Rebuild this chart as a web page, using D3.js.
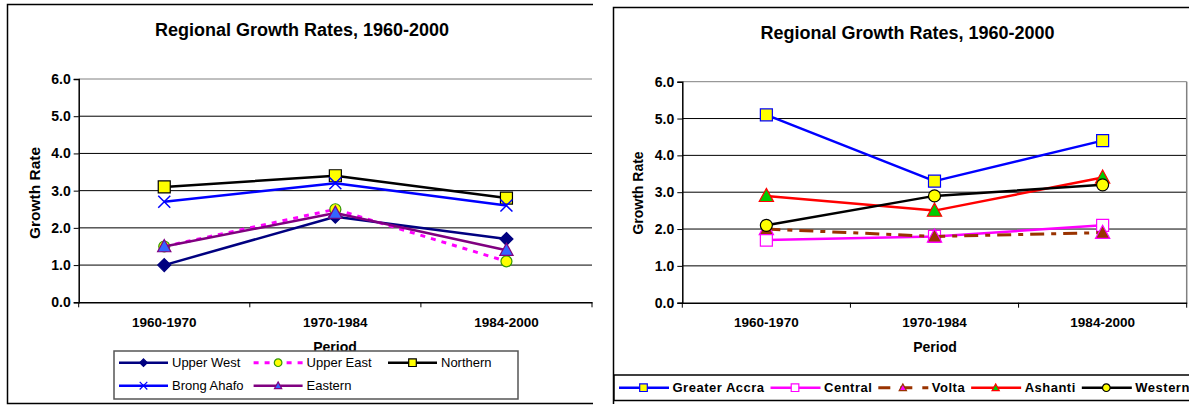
<!DOCTYPE html>
<html><head><meta charset="utf-8">
<script src="https://cdn.jsdelivr.net/npm/d3@7"></script>
<style>
body{margin:0;background:#fff}
svg{display:block;font-family:"Liberation Sans",Arial,sans-serif}
</style>
</head><body>
<svg id="c" width="1189" height="405"></svg>
<script>
// ---------- DATA ----------
const periods = ["1960-1970", "1970-1984", "1984-2000"];
const yTickValues = [0, 1, 2, 3, 4, 5, 6];
const chartTitle = "Regional Growth Rates, 1960-2000";
const xTitle = "Period";
const yTitle = "Growth Rate";

const leftSeriesNames = ["Upper West", "Upper East", "Northern", "Brong Ahafo", "Eastern"];
const upperWest  = [1.0, 2.3, 1.7];
const upperEast  = [1.5, 2.5, 1.1];
const northern   = [3.1, 3.4, 2.8];
const brongAhafo = [2.7, 3.2, 2.6];
const eastern    = [1.5, 2.4, 1.4];

const rightSeriesNames = ["Greater Accra", "Central", "Volta", "Ashanti", "Western"];
const greaterAccra = [5.1, 3.3, 4.4];
const central      = [1.7, 1.8, 2.1];
const volta        = [2.0, 1.8, 1.9];
const ashanti      = [2.9, 2.5, 3.4];
const western      = [2.1, 2.9, 3.2];

// ---------- STYLES ----------
const leftStyles = [
  {color:"#000080", width:2.5, dash:null, marker:"diamond", fill:"#000080", mstroke:"#000080", size:6.5},
  {color:"#FF00FF", width:3, dash:"5,6", marker:"circle", fill:"#FFFF00", mstroke:"#339900", size:5.5},
  {color:"#000000", width:2.5, dash:null, marker:"square", fill:"#FFFF00", mstroke:"#000000", size:6},
  {color:"#0000FF", width:2.5, dash:null, marker:"x", fill:"none", mstroke:"#0000FF", size:6},
  {color:"#800080", width:2.5, dash:null, marker:"triangle", fill:"#3366FF", mstroke:"#800080", size:7}
];
const rightStyles = [
  {color:"#0000FF", width:2.5, dash:null, marker:"square", fill:"#FFFF00", mstroke:"#0000FF", size:6},
  {color:"#FF00FF", width:2.5, dash:null, marker:"square", fill:"#FFFFFF", mstroke:"#FF00FF", size:6},
  {color:"#993300", width:3, dash:"14,7,5,7", marker:"triangle", fill:"#993300", mstroke:"#FF00FF", size:7.5},
  {color:"#FF0000", width:2.5, dash:null, marker:"triangle", fill:"#00CC00", mstroke:"#FF0000", size:7.5},
  {color:"#000000", width:2.5, dash:null, marker:"circle", fill:"#FFFF00", mstroke:"#000000", size:6}
];

function markerPath(type, s){
  switch(type){
    case "diamond": return `M0,${-s}L${s},0L0,${s}L${-s},0Z`;
    case "square": return `M${-s},${-s}H${s}V${s}H${-s}Z`;
    case "triangle": return `M0,${-s}L${s*0.95},${s*0.75}L${-s*0.95},${s*0.75}Z`;
    case "x": return `M${-s},${-s}L${s},${s}M${-s},${s}L${s},${-s}`;
    case "circle": return `M${s},0A${s},${s} 0 1,1 ${-s},0A${s},${s} 0 1,1 ${s},0Z`;
  }
}

const svg = d3.select("#c");

function drawChart(cfg){
  const g = svg.append("g");
  if (cfg.border) {
    g.append("path").attr("d", cfg.border).attr("fill","none").attr("stroke","#000").attr("stroke-width",1.5);
  }
  g.append("text").attr("x", cfg.titleX).attr("y", cfg.titleY)
    .attr("text-anchor","middle").attr("font-weight","bold").attr("font-size",18)
    .text(chartTitle);

  const x = d3.scaleBand().domain(periods).range([cfg.px0, cfg.px1]);
  const y = d3.scaleLinear().domain([0, 6]).range([cfg.py0, cfg.py6]);

  g.selectAll(".grid").data(yTickValues.filter(v => v > 0)).join("line")
    .attr("x1", cfg.px0).attr("x2", cfg.px1)
    .attr("y1", d => y(d)).attr("y2", d => y(d))
    .attr("stroke", d => d === 6 ? "#808080" : "#000").attr("stroke-width", 1);
  if (cfg.rightBorder) {
    g.append("line").attr("x1", cfg.px1).attr("x2", cfg.px1).attr("y1", y(6)).attr("y2", y(0))
      .attr("stroke", "#808080").attr("stroke-width", 1.5);
  }

  const ya = g.append("g").attr("transform", `translate(${cfg.px0},0)`)
    .call(d3.axisLeft(y).tickValues(yTickValues).tickFormat(d3.format(".1f")).tickSize(5).tickPadding(3));
  ya.select(".domain").attr("stroke","#000").attr("stroke-width",1.5);
  ya.selectAll(".tick line").attr("stroke","#000");
  ya.selectAll("text").attr("font-family","Liberation Sans, Arial, sans-serif")
    .attr("font-weight","bold").attr("font-size",14).attr("fill","#000");

  const xa = g.append("g").attr("transform", `translate(0,${y(0)})`)
    .call(d3.axisBottom(x).tickSize(0).tickPadding(15));
  xa.select(".domain").attr("stroke","#000").attr("stroke-width",1.5);
  xa.selectAll("text").attr("font-family","Liberation Sans, Arial, sans-serif")
    .attr("font-weight","bold").attr("font-size",13.5).attr("fill","#000");
  const edges = periods.map(p => x(p)).concat([cfg.px1]);
  g.selectAll(".xt").data(edges).join("line")
    .attr("x1", d => d).attr("x2", d => d)
    .attr("y1", y(0)).attr("y2", y(0) + 5).attr("stroke","#000").attr("stroke-width",1);

  g.append("text").attr("x", cfg.xTitleX).attr("y", cfg.xTitleY).attr("text-anchor","middle")
    .attr("font-weight","bold").attr("font-size",14).text(xTitle);
  g.append("text").attr("transform", `translate(${cfg.yTitleX},${cfg.yTitleY}) rotate(-90)`)
    .attr("text-anchor","middle").attr("font-weight","bold").attr("font-size",cfg.yTitleSize).text(yTitle);

  const line = d3.line().x((d,i) => x(periods[i]) + x.bandwidth()/2).y(d => y(d));
  cfg.series.forEach((vals, si) => {
    const st = cfg.styles[si];
    g.append("path").datum(vals).attr("d", line).attr("fill","none")
      .attr("stroke", st.color).attr("stroke-width", st.width)
      .attr("stroke-dasharray", st.dash).attr("stroke-linejoin","round");
    g.selectAll(null).data(vals).join("path")
      .attr("transform", (d,i) => `translate(${x(periods[i]) + x.bandwidth()/2},${y(d)})`)
      .attr("d", markerPath(st.marker, st.size))
      .attr("fill", st.fill).attr("stroke", st.mstroke)
      .attr("stroke-width", st.marker === "x" ? 1.5 : 1.2);
  });

  const lg = g.append("g");
  lg.append("rect").attr("x", cfg.legend.x).attr("y", cfg.legend.y)
    .attr("width", cfg.legend.w).attr("height", cfg.legend.h)
    .attr("fill","#fff").attr("stroke", cfg.legend.stroke).attr("stroke-width",1.5);
  return {g: lg, x, y};
}

// ---------- LEFT CHART ----------
const leftSeries = [upperWest, upperEast, northern, brongAhafo, eastern];
const L = drawChart({
  border: "M593,4.5H7.5V403.5H593",
  titleX: 302, titleY: 36,
  px0: 78.7, px1: 592, py0: 302.3, py6: 79,
  rightBorder: false,
  xTitleX: 335, xTitleY: 352,
  yTitleX: 40, yTitleY: 193, yTitleSize: 15.5,
  series: leftSeries, styles: leftStyles,
  legend: {x: 114, y: 351, w: 404, h: 48, stroke: "#555"}
});
{
  const colX = [119, 253.6, 388];
  const rowY = [362.7, 385.7];
  leftSeriesNames.forEach((name, i) => {
    const col = i < 3 ? i : i - 3;
    const row = i < 3 ? 0 : 1;
    const st = leftStyles[i];
    const x0 = colX[col], yy = rowY[row];
    L.g.append("line").attr("x1", x0).attr("x2", x0 + 49).attr("y1", yy).attr("y2", yy)
      .attr("stroke", st.color).attr("stroke-width", st.width).attr("stroke-dasharray", st.dash);
    L.g.append("path").attr("transform", `translate(${x0 + 24.5},${yy})`)
      .attr("d", markerPath(st.marker, 3.8))
      .attr("fill", st.fill).attr("stroke", st.mstroke).attr("stroke-width", 1.2);
    L.g.append("text").attr("x", x0 + 53).attr("y", yy + 4.6).attr("font-size", 13).text(name);
  });
}

// ---------- RIGHT CHART ----------
const rightSeries = [greaterAccra, central, volta, ashanti, western];
const R = drawChart({
  border: "M1189,7.5H613.5V404",
  titleX: 907.5, titleY: 39,
  px0: 682.3, px1: 1186.7, py0: 302.7, py6: 81.7,
  rightBorder: true,
  xTitleX: 935, xTitleY: 352,
  yTitleX: 643, yTitleY: 193, yTitleSize: 14,
  series: rightSeries, styles: rightStyles,
  legend: {x: 614, y: 375, w: 600, h: 25.5, stroke: "#000"}
});
{
  let xc = 619;
  const yy = 387.7;
  rightSeriesNames.forEach((name, i) => {
    const st = rightStyles[i];
    R.g.append("line").attr("x1", xc).attr("x2", xc + 50).attr("y1", yy).attr("y2", yy)
      .attr("stroke", st.color).attr("stroke-width", st.width)
      .attr("stroke-dasharray", st.dash ? "12,10" : null);
    const mk = R.g.append("path").attr("transform", `translate(${xc + 24.5},${yy})`)
      .attr("d", markerPath(st.marker, 3.8))
      .attr("stroke-width", 1.2);
    if (name === "Volta") mk.attr("fill", "#FF00FF").attr("stroke", "#993300");
    else mk.attr("fill", st.fill).attr("stroke", st.mstroke);
    const t = R.g.append("text").attr("x", xc + 53.5).attr("y", yy + 4.6)
      .attr("font-size", 13).attr("font-weight","bold").attr("letter-spacing", 0.5).text(name);
    xc = xc + 53.5 + t.node().getComputedTextLength() + 6;
  });
}
</script>
</body></html>
